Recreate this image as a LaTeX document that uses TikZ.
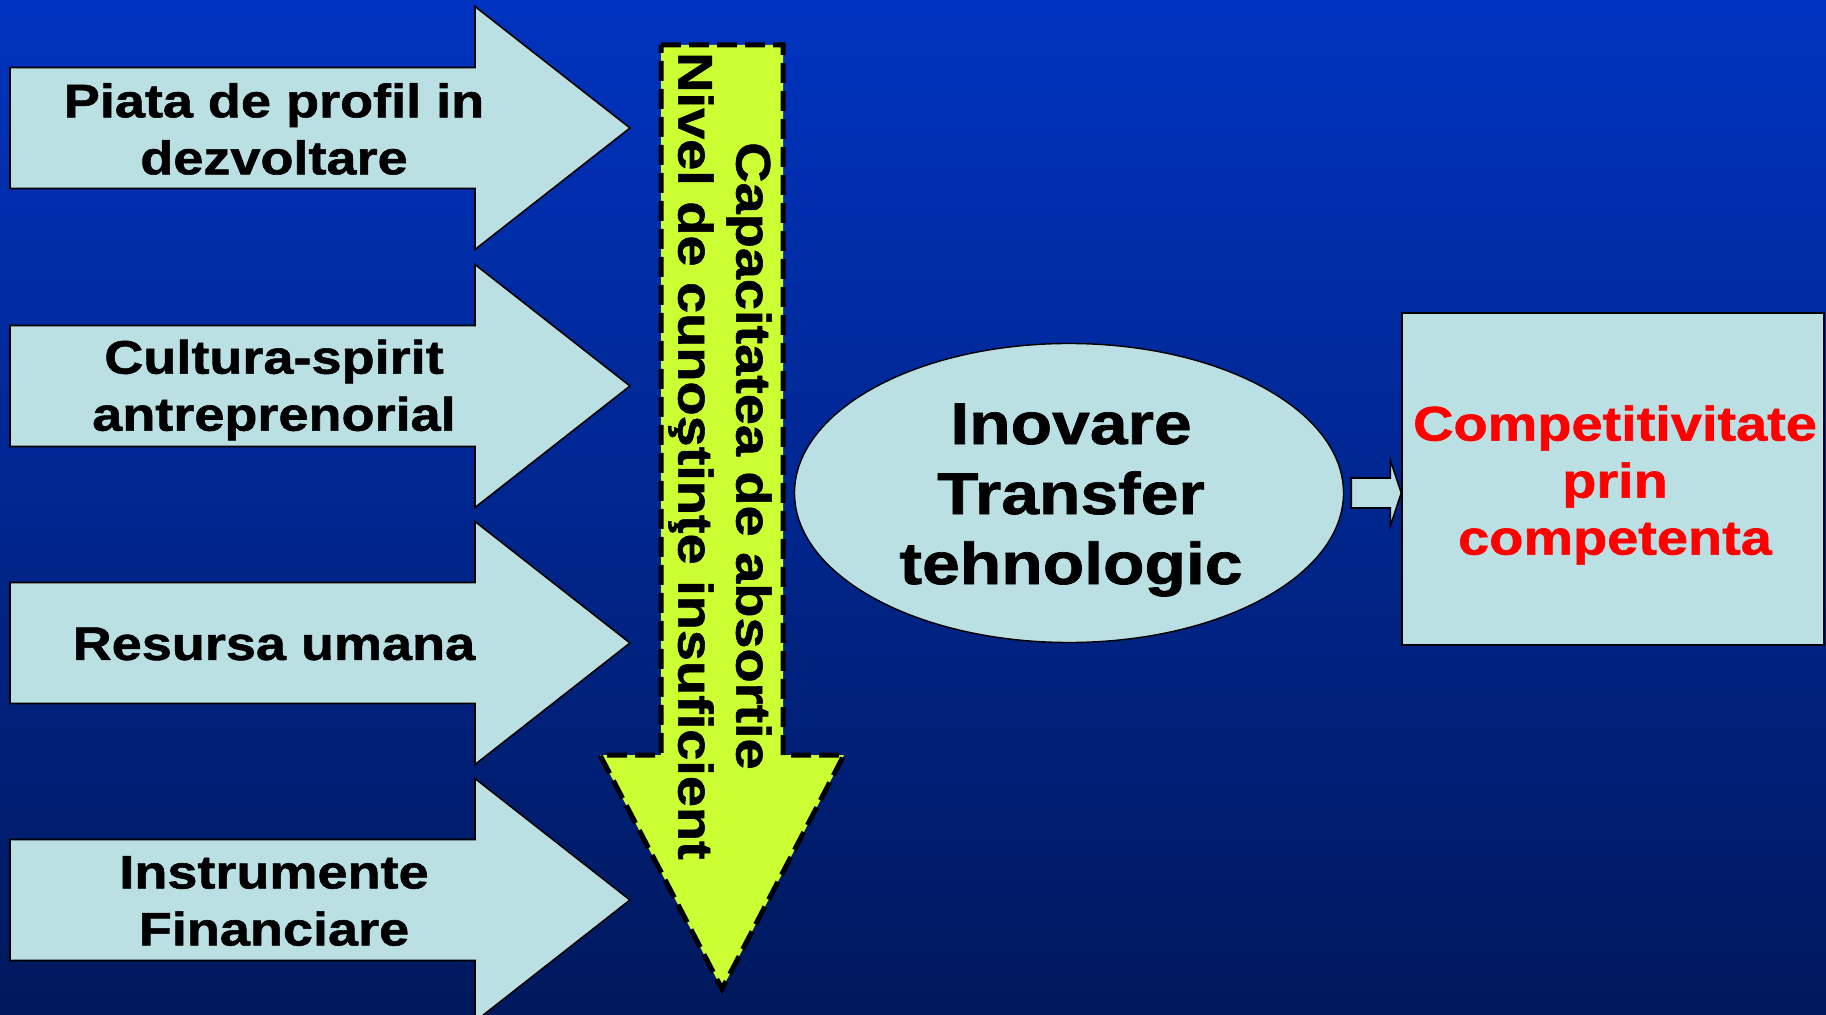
\documentclass[tikz,border=0pt]{standalone}
\usepackage{fontspec}
\setmainfont{Liberation Sans}[FakeStretch=1.15, BoldFeatures={FakeBold=1.2}]
\usetikzlibrary{shapes.geometric,calc}
\definecolor{bgtop}{RGB}{0,51,192}
\definecolor{bgbot}{RGB}{0,24,92}
\definecolor{arrowfill}{RGB}{187,224,227}
\definecolor{lime}{RGB}{204,255,51}
\tikzset{
  inarrow/.style={draw=black, line width=0.8pt, fill=arrowfill},
  intext/.style={font=\bfseries\fontsize{23.5}{28.5}\selectfont, align=center},
}

\begin{document}
\begin{tikzpicture}[x=0.5pt,y=0.5pt,yscale=-1,xscale=1]
  %Background
  \useasboundingbox (0,0) rectangle (1826,1015);
  \clip (0,0) rectangle (1826,1015);
  \shade [top color=bgtop, bottom color=bgbot] (0,0) rectangle (1826,1015);
  %Right Arrows
  \foreach \yc in {128,386,643,900}
    \draw [inarrow] (10,\yc-60.5) -- (475,\yc-60.5) -- (475,\yc-121.5) -- (630,\yc) -- (475,\yc+121.5) -- (475,\yc+60.5) -- (10,\yc+60.5) -- cycle;
  %Arrow texts
  \node [intext] (piata) at (274,129) {Piata de profil in\\dezvoltare};
  \node [intext] (cultura) at (274,390) {Cultura-spirit\\antreprenorial};
  \node [intext] (resursa) at (274,644) {Resursa umana};
  \node [intext] (instr) at (274,901) {Instrumente\\Financiare};
  %Down Arrow
  \draw [draw=black, line width=2.5pt, dash pattern=on 10pt off 4pt, fill=lime] (661,45) -- (783,45) -- (783,755) -- (844,755) -- (722,989) -- (600,755) -- (661,755) -- cycle;
  \node [font=\bfseries\fontsize{24.3}{29}\selectfont, align=center, rotate=-90] (absortie) at (720,456) {Capacitatea de absortie\\Nivel de cunoştinţe insuficient};
  %Ellipse
  \node [ellipse, draw=black, line width=0.7pt, fill=arrowfill, minimum width=274.5pt, minimum height=149.5pt, inner sep=0pt] (inov) at (1069,493) {};
  \node [font=\bfseries\fontsize{29.5}{35}\selectfont, align=center] (inovtext) at ($(inov.center)+(2,7)$) {Inovare\\Transfer\\tehnologic};
  %Box
  \node [draw=black, line width=0.7pt, fill=arrowfill, minimum width=211pt, minimum height=166pt, inner sep=0pt] (comp) at (1613,479) {};
  \node [text=red, font=\bfseries\fontsize{24.3}{28.5}\selectfont, align=center] (comptext) at ($(comp.center)+(2,6)$) {Competitivitate\\prin\\competenta};
  %Block Arrow
  \draw [inarrow] ($(inov.east)+(7,-15)$) -- ($(comp.west |- inov.east)+(-11,-15)$) -- ($(comp.west |- inov.east)+(-11,-33)$) -- (comp.west |- inov.east) -- ($(comp.west |- inov.east)+(-11,33)$) -- ($(comp.west |- inov.east)+(-11,15)$) -- ($(inov.east)+(7,15)$) -- cycle;
\end{tikzpicture}
\end{document}
